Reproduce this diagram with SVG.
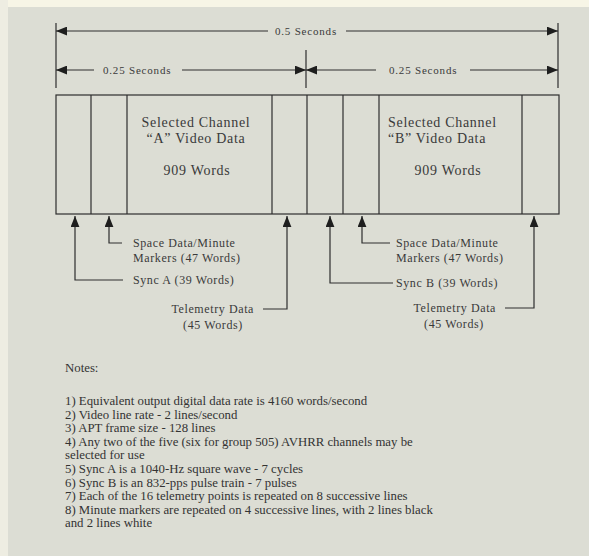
<svg xmlns="http://www.w3.org/2000/svg" width="589" height="556" viewBox="0 0 589 556">
<defs>
<style>
.ln{stroke:#2e2e2e;stroke-width:1.2;fill:none}
.t{font-family:"Liberation Serif","Times New Roman",serif;fill:#3a3a3a}
.dim{font-size:11px;letter-spacing:0.8px}
.box{font-size:14px;letter-spacing:0.7px}
.lab{font-size:12px;letter-spacing:0.6px}
.note{font-size:12.8px;fill:#333}
.ah{fill:#1e1e1e}
</style>
<marker id="arr" viewBox="0 0 10 8" refX="10" refY="4" markerWidth="11" markerHeight="9" markerUnits="userSpaceOnUse" orient="auto">
<path d="M0,0 L10,4 L0,8 Z" class="ah"/>
</marker>
</defs>
<rect x="0" y="0" width="589" height="556" fill="#dcddd4"/>
<rect x="0" y="0" width="589" height="7" fill="#f7f5e6"/>
<rect x="0" y="0" width="8" height="556" fill="#eeede2"/>

<g id="connectors">
<line class="ln" x1="56" y1="23" x2="56" y2="88"/>
<line class="ln" x1="558" y1="23" x2="558" y2="88"/>
<line class="ln" x1="306" y1="50" x2="306" y2="88"/>
<line class="ln" x1="268" y1="31" x2="56" y2="31" marker-end="url(#arr)"/>
<line class="ln" x1="346" y1="31" x2="558" y2="31" marker-end="url(#arr)"/>
<line class="ln" x1="94" y1="70" x2="56" y2="70" marker-end="url(#arr)"/>
<line class="ln" x1="182" y1="70" x2="306" y2="70" marker-end="url(#arr)"/>
<line class="ln" x1="376" y1="70" x2="306" y2="70" marker-end="url(#arr)"/>
<line class="ln" x1="470" y1="70" x2="558" y2="70" marker-end="url(#arr)"/>
<polyline class="ln" points="123,280 75,280 75,216" marker-end="url(#arr)"/>
<polyline class="ln" points="122,243 109,243 109,216" marker-end="url(#arr)"/>
<polyline class="ln" points="263,309 287,309 287,216" marker-end="url(#arr)"/>
<polyline class="ln" points="393,283 330,283 330,216" marker-end="url(#arr)"/>
<polyline class="ln" points="390,243 362,243 362,216" marker-end="url(#arr)"/>
<polyline class="ln" points="505,308 534,308 534,216" marker-end="url(#arr)"/>
</g>

<g id="dimension-labels">
<text class="t dim" x="275" y="35">0.5 Seconds</text>
<text class="t dim" x="103" y="74">0.25 Seconds</text>
<text class="t dim" x="389" y="74">0.25 Seconds</text>
</g>

<g id="frame">
<rect class="ln" x="56" y="95" width="503" height="119"/>
<line class="ln" x1="91" y1="95" x2="91" y2="214"/>
<line class="ln" x1="127" y1="95" x2="127" y2="214"/>
<line class="ln" x1="272" y1="95" x2="272" y2="214"/>
<line class="ln" x1="307" y1="95" x2="307" y2="214"/>
<line class="ln" x1="343" y1="95" x2="343" y2="214"/>
<line class="ln" x1="379" y1="95" x2="379" y2="214"/>
<line class="ln" x1="522" y1="95" x2="522" y2="214"/>
</g>

<g id="channel-a">
<text class="t box" x="196" y="127" text-anchor="middle">Selected Channel</text>
<text class="t box" x="196" y="143" text-anchor="middle">“A” Video Data</text>
<text class="t box" x="197" y="175" text-anchor="middle">909 Words</text>
</g>

<g id="channel-b">
<text class="t box" x="388" y="127">Selected Channel</text>
<text class="t box" x="388" y="143">“B” Video Data</text>
<text class="t box" x="448" y="175" text-anchor="middle">909 Words</text>
</g>

<g id="sync-a">
<text class="t lab" x="133" y="284">Sync A (39 Words)</text>
</g>
<g id="space-a">
<text class="t lab" x="133" y="247">Space Data/Minute</text>
<text class="t lab" x="133" y="262">Markers (47 Words)</text>
</g>
<g id="telemetry-a">
<text class="t lab" x="254" y="313" text-anchor="end">Telemetry Data</text>
<text class="t lab" x="213" y="329" text-anchor="middle">(45 Words)</text>
</g>
<g id="sync-b">
<text class="t lab" x="396" y="287">Sync B (39 Words)</text>
</g>
<g id="space-b">
<text class="t lab" x="396" y="247">Space Data/Minute</text>
<text class="t lab" x="396" y="262">Markers (47 Words)</text>
</g>
<g id="telemetry-b">
<text class="t lab" x="496" y="312" text-anchor="end">Telemetry Data</text>
<text class="t lab" x="454" y="328" text-anchor="middle">(45 Words)</text>
</g>

<g id="notes">
<text class="t note" x="65" y="372">Notes:</text>
<text class="t note" x="65" y="405">1) Equivalent output digital data rate is 4160 words/second</text>
<text class="t note" x="65" y="418.6">2) Video line rate - 2 lines/second</text>
<text class="t note" x="65" y="432.2">3) APT frame size - 128 lines</text>
<text class="t note" x="65" y="445.8">4) Any two of the five (six for group 505) AVHRR channels may be</text>
<text class="t note" x="65" y="459.4">selected for use</text>
<text class="t note" x="65" y="473">5) Sync A is a 1040-Hz square wave - 7 cycles</text>
<text class="t note" x="65" y="486.6">6) Sync B is an 832-pps pulse train - 7 pulses</text>
<text class="t note" x="65" y="500.2">7) Each of the 16 telemetry points is repeated on 8 successive lines</text>
<text class="t note" x="65" y="513.8">8) Minute markers are repeated on 4 successive lines, with 2 lines black</text>
<text class="t note" x="65" y="527.4">and 2 lines white</text>
</g>
</svg>
